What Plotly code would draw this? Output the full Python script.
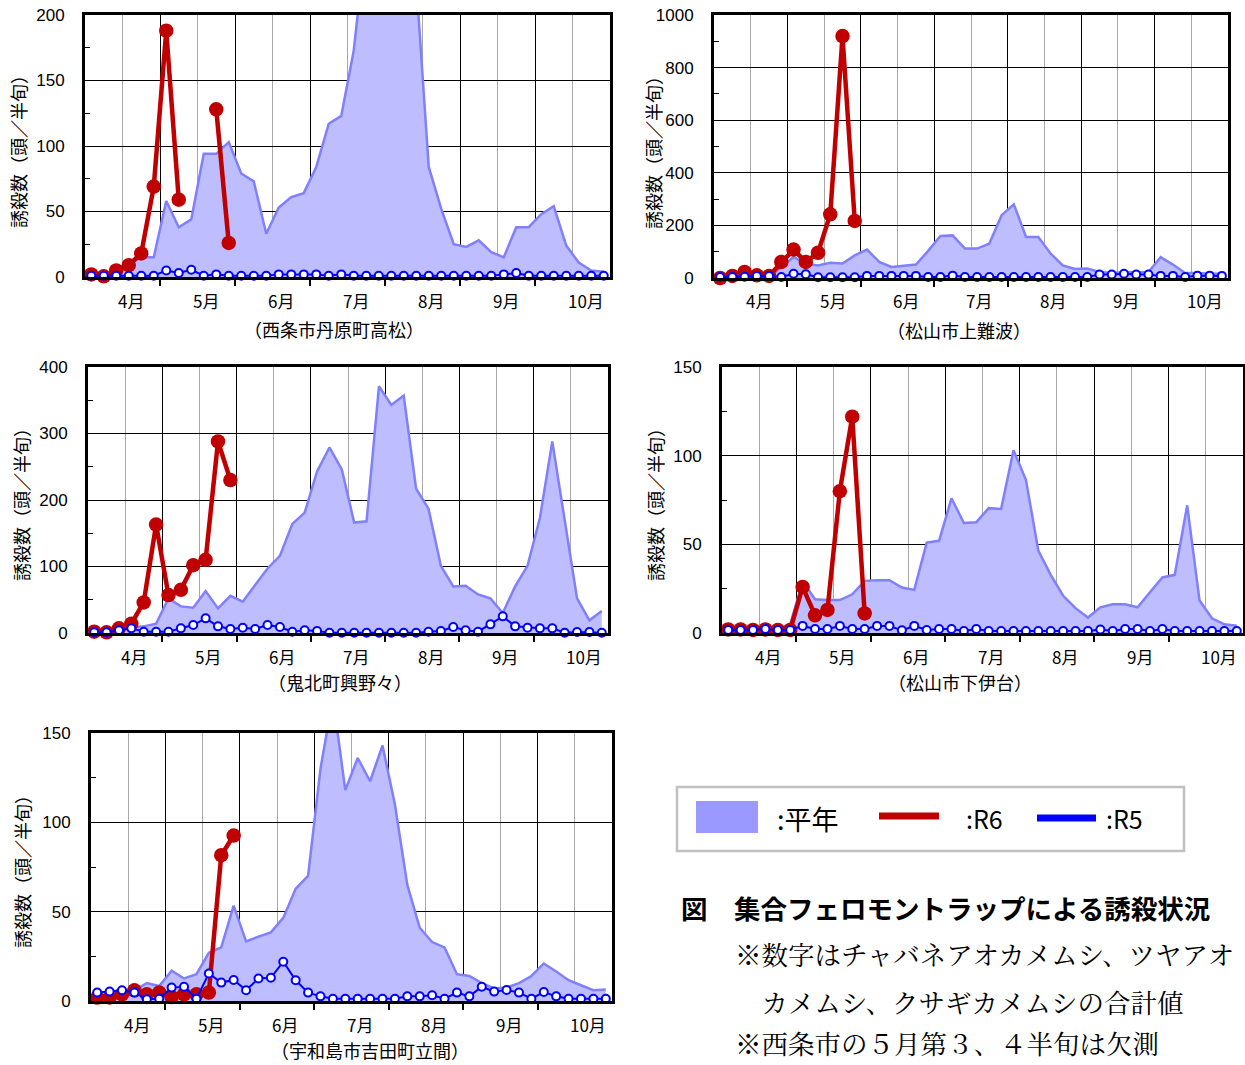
import plotly.graph_objects as go

W, H = 1245, 1065

# Half-month periods (半旬) from April to October: 6 per month
MONTHS = ["4月", "5月", "6月", "7月", "8月", "9月", "10月"]
PER_MONTH = 6
N_HALF = len(MONTHS) * PER_MONTH
half_idx = list(range(N_HALF))

SITES = ["（西条市丹原町高松）", "（松山市上難波）", "（鬼北町興野々）",
         "（松山市下伊台）", "（宇和島市吉田町立間）"]

# 西条市丹原町高松
avg_saijo = [1, 2, 4, 10, 15, 15, 58, 38, 44, 94, 94, 103, 79, 73, 33, 53, 61, 64, 84, 117, 123,
             173, 260, 300, 330, 310, 225, 84, 52, 25, 23, 28, 19, 15, 38, 38, 48, 54, 24, 11, 5, 4]
r6_saijo = [2, 0.5, 5, 9, 18, 69, 188, 59, None, None, 128, 26] + [None] * 30
r5_saijo = [1, 1, 1, 1, 1, 1, 5, 3, 5.5, 1, 2, 1, 1, 1, 1, 2, 2, 2, 2, 1, 2,
            1, 1, 1, 1, 1, 1, 1, 1, 1, 1, 1, 1, 2, 3, 1, 1, 1, 1, 1, 1, 1]

# 松山市上難波
avg_kaminanba = [0, 0, 0, 0, 5, 40, 80, 55, 48, 58, 55, 86, 108, 61, 42, 46, 51, 103, 160, 162, 112,
                 112, 131, 239, 280, 156, 156, 93, 48, 34, 36, 23, 19, 22, 23, 23, 79, 51, 19, 19, 16, 16]
r6_kaminanba = [0, 8, 23, 10, 8, 61, 108, 61, 96, 242, 920, 217] + [None] * 30
r5_kaminanba = [4, 4, 5, 8, 8, 4, 16, 14, 3, 3, 3, 3, 8, 8, 8, 8, 8, 4, 4, 9, 4,
                4, 4, 4, 4, 4, 4, 4, 4, 4, 4, 13, 13, 16, 13, 13, 8, 8, 4, 9, 9, 8]

# 鬼北町興野々
avg_kihoku = [2, 3, 5, 8, 10, 14, 52, 40, 38, 63, 37, 56, 47, 72, 97, 116, 164, 181, 243, 279, 246,
              166, 168, 371, 343, 357, 217, 187, 101, 70, 71, 58, 52, 30, 70, 101, 173, 288, 169, 52, 19, 33]
r6_kihoku = [2, 1, 7, 14, 46, 163, 57, 65, 102, 110, 288, 230] + [None] * 30
r5_kihoku = [1, 1, 4, 7, 2, 2, 2, 7, 12, 22, 10, 6, 8, 6, 12, 9, 2, 4, 3, 0.5, 0.5,
             0.5, 0.5, 0.5, 0.5, 0.5, 0.5, 2, 3, 9, 4, 2, 13, 25, 10, 8, 7, 7, 0.5, 1.5, 1.5, 0.5]

# 松山市下伊台
avg_shimoidai = [1, 1, 1, 1, 2, 5, 29, 19, 18.6, 18.6, 21.8, 29.4, 29.8, 29.8, 25.6, 24.3, 51, 52, 76,
                 62, 62.5, 70.4, 69.9, 103, 86.4, 46.5, 32.8, 21, 14, 8.7, 14.5, 16.2, 16.2, 14.5, 23,
                 31.3, 32.8, 72, 18.3, 8.3, 4.9, 4.1]
r6_shimoidai = [2, 2, 1.7, 2, 1.7, 1.7, 26, 10, 13, 80, 122, 11] + [None] * 30
r5_shimoidai = [1.7, 1.7, 1.7, 2.3, 1.7, 1.7, 4, 2.3, 2.3, 4, 2.3, 2.3, 4, 4, 1.5, 4, 1.7, 2.3,
                2.3, 1.1, 2.3, 1.1, 1.1, 1.1, 1.1, 1.1, 1.1, 1.1, 1.1, 1.1, 2, 1.1, 2.3, 2.3,
                1.1, 2.3, 1.1, 1.1, 1.1, 1.1, 1.1, 1.1]

# 宇和島市吉田町立間
avg_tachima = [2, 3, 4, 6, 10, 8.4, 17, 12.6, 15, 27, 30, 53.4, 33.4, 36, 38.4, 46.5, 62.8, 70, 130,
               170, 118, 136, 123, 143, 110, 65, 41, 33, 30, 15, 14, 10, 7, 7.5, 10, 14, 21, 16.5,
               11.6, 8.8, 6, 6.5]
r6_tachima = [1.9, 2, 3.75, 6, 3.75, 4.7, 2.2, 3.75, 3.75, 4.7, 81.6, 92.6] + [None] * 30
r5_tachima = [4.7, 5.25, 6, 4.7, 1, 1.3, 7.5, 8, 1.3, 15.4, 10.3, 11.8, 6, 12.6, 13, 22, 11.6,
              4.7, 2.6, 1.3, 1.3, 1.3, 1.3, 1.3, 1.3, 2.6, 2.6, 3.2, 1.3, 4.7, 2.6, 8, 5.25,
              6.2, 4.7, 1.3, 5, 2.6, 1.3, 1.3, 1.3, 1.3]

AVG = [avg_saijo, avg_kaminanba, avg_kihoku, avg_shimoidai, avg_tachima]
R6 = [r6_saijo, r6_kaminanba, r6_kihoku, r6_shimoidai, r6_tachima]
R5 = [r5_saijo, r5_kaminanba, r5_kihoku, r5_shimoidai, r5_tachima]
Y_MAX = [200, 1000, 400, 150, 150]
Y_STEP = [50, 200, 100, 50, 50]

# panel frames in pixels: left, right, top, bottom
BOXES = [(85, 610, 15, 277), (714, 1228, 15, 278), (88, 608, 367, 633),
         (722, 1243, 367, 633), (91, 612, 733, 1001)]
YTITLE_POS = [(18, 147), (653, 148), (21, 500), (655, 500), (22, 867)]
CAPTION_POS = [(334, 329), (959, 330), (340, 682), (960, 682), (370, 1050)]

C_AVG_FILL = "rgb(189,189,255)"
C_AVG_LINE = "rgb(128,128,255)"
C_R6 = "#c00000"
C_R5 = "#0000ff"
JP = "Noto Sans CJK JP"
JP_SERIF = "Noto Serif CJK JP, Noto Sans CJK JP"
NUM = "Liberation Sans, Arial"


def px(x):
    return x / W


def py(y):
    return 1 - y / H


fig = go.Figure()
annotations = []
layout = {}

major_x = [PER_MONTH * m - 0.5 for m in range(1, len(MONTHS))]
minor_x = [PER_MONTH * m + 2.5 for m in range(len(MONTHS))]

for k in range(5):
    n = "" if k == 0 else str(k + 1)
    xa, ya = "x" + n, "y" + n
    l, r, t, b = BOXES[k]

    fig.add_trace(go.Scatter(
        x=half_idx, y=AVG[k], xaxis=xa, yaxis=ya, mode="lines", fill="tozeroy",
        fillcolor=C_AVG_FILL, line=dict(color=C_AVG_LINE, width=2.5),
        showlegend=False, hoverinfo="skip"))
    fig.add_trace(go.Scatter(
        x=half_idx, y=R6[k], xaxis=xa, yaxis=ya, mode="lines+markers",
        line=dict(color=C_R6, width=4.5), marker=dict(size=14.5, color=C_R6),
        connectgaps=False, cliponaxis=False, showlegend=False))
    fig.add_trace(go.Scatter(
        x=half_idx, y=R5[k], xaxis=xa, yaxis=ya, mode="lines+markers",
        line=dict(color=C_R5, width=2),
        marker=dict(size=8, color="white", line=dict(color=C_R5, width=2)),
        cliponaxis=False, showlegend=False))

    layout["xaxis" + n] = dict(
        domain=[px(l), px(r)], range=[-0.5, N_HALF - 0.5], anchor=ya, automargin=False,
        tickmode="array", tickvals=major_x, showticklabels=False,
        ticks="outside", ticklen=6, tickwidth=1.5, tickcolor="black",
        showgrid=True, gridcolor="black", gridwidth=1.3,
        minor=dict(tickmode="array", tickvals=minor_x, showgrid=True,
                   gridcolor="#a8a8a8", gridwidth=1.3, ticks=""),
        showline=True, linecolor="black", linewidth=2.8, mirror=True,
        zeroline=False, fixedrange=True)
    layout["yaxis" + n] = dict(
        domain=[py(b), py(t)], range=[0, Y_MAX[k]], anchor=xa, automargin=False,
        tickmode="linear", tick0=0, dtick=Y_STEP[k],
        ticks="inside", ticklen=5, tickcolor="black", tickwidth=1.3,
        tickfont=dict(family=NUM, size=17, color="black"), ticklabelstandoff=14,
        showgrid=True, gridcolor="black", gridwidth=1.3,
        minor=dict(tickmode="linear", tick0=0, dtick=Y_STEP[k] / 2, ticks="inside",
                   ticklen=5, tickcolor="black", tickwidth=1.3, showgrid=False),
        showline=True, linecolor="black", linewidth=2.8, mirror=True,
        zeroline=False, fixedrange=True)

    # month labels under each month block
    for m, lab in enumerate(MONTHS):
        annotations.append(dict(
            x=PER_MONTH * m + 2.05, xref=xa, y=0, yref=ya + " domain", yshift=-23,
            text=lab, showarrow=False, xanchor="left", yanchor="middle", borderpad=0,
            font=dict(family=JP, size=17, color="black")))

    tx, ty = YTITLE_POS[k]
    annotations.append(dict(
        x=px(tx), y=py(ty), xref="paper", yref="paper", text="誘殺数（頭／半旬）",
        textangle=-90, showarrow=False, xanchor="center", yanchor="middle", borderpad=0,
        font=dict(family=JP, size=18, color="black")))

    cx, cy = CAPTION_POS[k]
    annotations.append(dict(
        x=px(cx), y=py(cy), xref="paper", yref="paper", text=SITES[k],
        showarrow=False, xanchor="center", yanchor="middle", borderpad=0,
        font=dict(family=JP, size=18, color="black")))

# legend panel
shapes = [
    dict(type="rect", xref="paper", yref="paper", x0=px(677), x1=px(1184), y0=py(851), y1=py(787),
         line=dict(color="#c0c0c0", width=2.5), fillcolor="white", layer="above"),
    dict(type="rect", xref="paper", yref="paper", x0=px(696), x1=px(758), y0=py(833), y1=py(801),
         line=dict(width=0), fillcolor="#9999ff", layer="above"),
    dict(type="line", xref="paper", yref="paper", x0=px(879), x1=px(939), y0=py(816), y1=py(816),
         line=dict(color=C_R6, width=7), layer="above"),
    dict(type="line", xref="paper", yref="paper", x0=px(1037), x1=px(1096), y0=py(818), y1=py(818),
         line=dict(color=C_R5, width=7), layer="above"),
]
for text, x0, size in [(":平年", 775, 27), (":R6", 964, 25), (":R5", 1104, 25)]:
    annotations.append(dict(
        x=px(x0), y=py(818), xref="paper", yref="paper", text=text, showarrow=False,
        xanchor="left", yanchor="middle", font=dict(family=JP, size=size, color="black")))

# figure caption and notes
annotations.append(dict(
    x=px(679), y=py(907), xref="paper", yref="paper",
    text="<b>図　集合フェロモントラップによる誘殺状況</b>", showarrow=False,
    xanchor="left", yanchor="middle", font=dict(family=JP, size=26.5, color="black")))
notes = [("※数字はチャバネアオカメムシ、ツヤアオ", 953),
         ("　カメムシ、クサギカメムシの合計値", 1001)]
for text, y in notes:
    annotations.append(dict(
        x=px(734), y=py(y), xref="paper", yref="paper", text=text, showarrow=False,
        xanchor="left", yanchor="middle", borderpad=0,
        font=dict(family=JP_SERIF, size=26.5, color="black")))
# last note line sits on the bottom edge of the page
annotations.append(dict(
    x=px(734), y=py(1063), xref="paper", yref="paper", text="※西条市の５月第３、４半旬は欠測",
    showarrow=False, xanchor="left", yanchor="bottom", borderpad=0,
    font=dict(family=JP_SERIF, size=26.5, color="black")))

fig.update_layout(
    width=W, height=H, margin=dict(l=0, r=0, t=0, b=0),
    paper_bgcolor="white", plot_bgcolor="white",
    showlegend=False, annotations=annotations, shapes=shapes, **layout)

fig.write_html("out.html")
